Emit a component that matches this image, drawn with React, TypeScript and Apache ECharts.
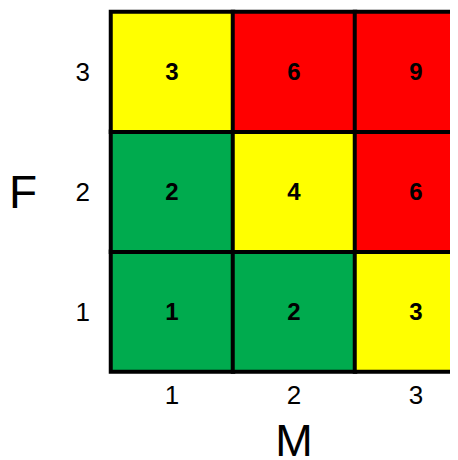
import React, { useEffect, useRef } from "react";
import * as echarts from "echarts";

const mCategories = ["1", "2", "3"];
const fCategories = ["1", "2", "3"];
// rows by F (1..3), columns by M (1..3)
const riskRowF1 = [1, 2, 3];
const riskRowF2 = [2, 4, 6];
const riskRowF3 = [3, 6, 9];
const riskRows = [riskRowF1, riskRowF2, riskRowF3];

const GREEN = "#00AB4E";
const YELLOW = "#FFFF00";
const RED = "#FF0000";

export default function App() {
  const ref = useRef<HTMLDivElement>(null);
  useEffect(() => {
    document.body.style.overflow = "hidden";
    if (!ref.current) return;
    const chart = echarts.init(ref.current, null, { renderer: "svg" });
    const data: [number, number, number][] = [];
    riskRows.forEach((row, fi) =>
      row.forEach((v, mi) => data.push([mi, fi, v]))
    );
    const font = "Liberation Sans";
    chart.setOption({
      animation: false,
      grid: {
        left: 103,
        top: 4,
        width: 366,
        height: 359.5,
        containLabel: false,
        outerBoundsMode: "none",
      },
      xAxis: {
        type: "category",
        data: mCategories,
        name: "M",
        nameLocation: "middle",
        nameGap: 46,
        nameTextStyle: { fontSize: 45, color: "#000", fontFamily: font },
        axisLine: { show: false },
        axisTick: { show: false },
        splitArea: { show: false },
        axisLabel: { fontSize: 26, color: "#000", margin: 10, fontFamily: font },
      },
      yAxis: {
        type: "category",
        data: fCategories,
        name: "F",
        nameLocation: "middle",
        nameRotate: 0,
        nameGap: 74,
        nameTextStyle: { fontSize: 46, color: "#000", fontFamily: font },
        axisLine: { show: false },
        axisTick: { show: false },
        axisLabel: { fontSize: 26, color: "#000", margin: 21, fontFamily: font },
      },
      visualMap: {
        show: false,
        type: "piecewise",
        dimension: 2,
        pieces: [
          { max: 2.5, color: GREEN },
          { min: 2.5, max: 5, color: YELLOW },
          { min: 5, color: RED },
        ],
      },
      series: [
        {
          type: "heatmap",
          data,
          label: {
            show: true,
            color: "#000",
            fontWeight: "bold",
            fontSize: 24,
            fontFamily: font,
          },
          itemStyle: { borderColor: "#000", borderWidth: 4 },
          emphasis: { disabled: true },
        },
      ],
    });
    return () => chart.dispose();
  }, []);
  return <div ref={ref} style={{ width: 450, height: 452 }} />;
}
